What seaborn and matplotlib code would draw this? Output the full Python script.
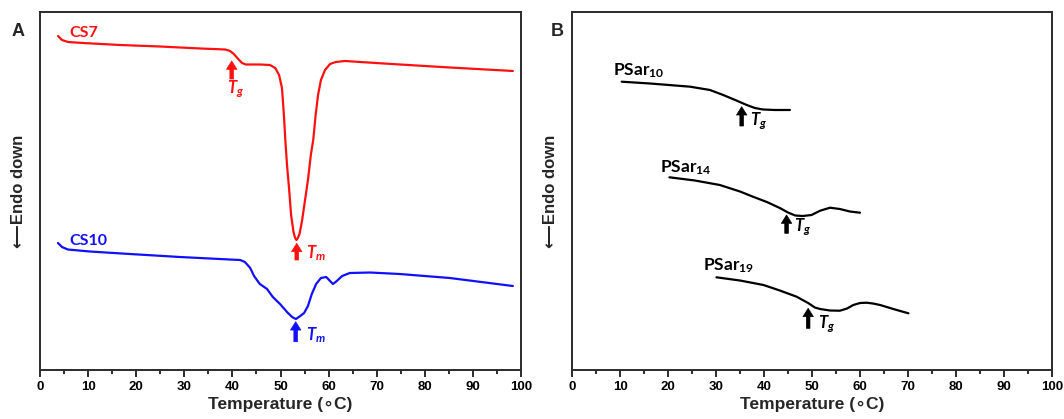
import matplotlib
matplotlib.use("Agg")
import matplotlib.pyplot as plt
from matplotlib.ticker import MultipleLocator
import pandas as pd
import seaborn as sns

# ---- DSC traces (heat flow in arbitrary units, endo down) ----
cs7_temp = [3.74, 4.57, 5.8, 8.9, 16.6, 24.9, 33.3, 38.5, 39.5, 40.3, 41.2, 42.0, 42.8,
            45.7, 47.8, 48.9, 49.7, 50.3, 50.7, 51.0, 51.35, 51.8, 52.2, 52.7, 53.0, 53.3,
            53.6, 53.95, 54.5, 55.1, 55.7, 56.3, 56.8, 57.3, 57.8, 58.4, 59.25, 60.3, 61.5,
            63.4, 66.5, 74.8, 85.2, 98.3]
cs7_heat = [33.4, 33.0, 32.8, 32.7, 32.5, 32.35, 32.15, 32.05, 31.9, 31.6, 31.1, 30.7, 30.55,
            30.55, 30.5, 30.2, 29.5, 28.2, 25.5, 23.0, 20.5, 18.0, 15.5, 13.8, 13.25, 13.0,
            13.2, 13.6, 15.0, 17.0, 19.0, 21.5, 23.0, 25.5, 27.5, 29.0, 30.0, 30.6, 30.8,
            30.9, 30.8, 30.55, 30.25, 29.9]

cs10_temp = [3.74, 4.57, 5.8, 10.4, 18.7, 29.1, 37.4, 41.6, 42.6, 43.7, 44.5, 45.7, 47.2,
             48.4, 49.9, 51.35, 52.4, 53.2, 54.1, 54.9, 55.7, 56.5, 57.4, 58.4, 59.5,
             60.3, 60.9, 61.7, 62.8, 64.4, 68.6, 74.8, 85.2, 98.3]
cs10_heat = [12.7, 12.3, 12.05, 11.85, 11.6, 11.3, 11.1, 11.0, 10.8, 10.2, 9.4, 8.6, 8.1,
             7.3, 6.6, 5.8, 5.3, 5.1, 5.4, 5.7, 6.4, 7.6, 8.6, 9.2, 9.3,
             8.9, 8.6, 8.9, 9.4, 9.7, 9.75, 9.6, 9.2, 8.4]

psar10_temp = [10.35, 16.25, 24.6, 28.75, 31.5, 34.0, 36.4, 38.1, 39.8, 42.3, 45.4]
psar10_heat = [28.83, 28.65, 28.33, 28.0, 27.5, 27.0, 26.5, 26.2, 26.05, 26.0, 26.0]

psar14_temp = [20.3, 25.6, 30.8, 35.0, 37.7, 40.6, 43.3, 45.0, 46.5, 48.1, 49.9, 51.7,
               53.75, 55.8, 57.9, 60.0]
psar14_heat = [19.27, 18.95, 18.5, 17.85, 17.33, 16.8, 16.2, 15.75, 15.45, 15.4, 15.5, 15.93,
               16.23, 16.1, 15.85, 15.73]

psar19_temp = [30.1, 35.0, 39.9, 43.3, 46.8, 49.2, 50.6, 51.7, 53.75, 55.8, 57.3, 58.6,
               60.0, 61.4, 62.7, 64.2, 67.3, 70.1]
psar19_heat = [9.27, 8.95, 8.5, 7.95, 7.33, 6.7, 6.25, 6.1, 5.95, 5.93, 6.15, 6.5,
               6.7, 6.73, 6.65, 6.5, 6.05, 5.67]

x_ticks = [0, 10, 20, 30, 40, 50, 60, 70, 80, 90, 100]

sns.set_theme(style="ticks")
plt.rcParams["font.family"] = ["Liberation Sans", "DejaVu Sans"]
plt.rcParams["font.weight"] = "bold"
plt.rcParams["mathtext.fontset"] = "custom"
plt.rcParams["mathtext.rm"] = "Lato:bold"
plt.rcParams["mathtext.bf"] = "Lato:bold"
plt.rcParams["mathtext.it"] = "Lato:bold:italic"

RED = "#ff1010"
BLUE = "#1010ff"
SPINE = "#2b2b2b"
LABEL_FONT = ["Liberation Sans", "DejaVu Sans"]

fig = plt.figure(figsize=(10.64, 4.19), dpi=100)
axA = fig.add_axes([0.0376, 0.1169, 0.4521, 0.8545])
axB = fig.add_axes([0.5376, 0.1169, 0.4511, 0.8545])


def trace(ax, temp, heat, color):
    df = pd.DataFrame({"T": temp, "H": heat})
    sns.lineplot(data=df, x="T", y="H", ax=ax, color=color, lw=1.6,
                 sort=False, estimator=None)


def arrow(ax, x, tip, base, color):
    ax.annotate("", xy=(x, tip), xytext=(x, base),
                arrowprops=dict(facecolor=color, edgecolor=color, width=2.6,
                                headwidth=7.5, headlength=6.0, shrink=0.0, lw=0.5))


def style(ax):
    ax.set_xlim(0, 100)
    ax.set_ylim(0, 35.8)
    ax.set_xticks(x_ticks)
    ax.set_xticklabels([str(t) for t in x_ticks])
    ax.xaxis.set_minor_locator(MultipleLocator(5))
    ax.set_yticks([])
    for sp in ax.spines.values():
        sp.set_visible(True)
        sp.set_color(SPINE)
        sp.set_linewidth(1.4)
    ax.tick_params(axis="x", which="major", direction="out", length=5, width=1.4,
                   color=SPINE, labelsize=9.5, pad=3, labelcolor="black")
    ax.tick_params(axis="x", which="minor", direction="out", length=3, width=1.4,
                   color=SPINE)
    for lab in ax.get_xticklabels():
        lab.set_fontweight("bold")
    ax.set_xlabel("Temperature (\u2218C)", fontsize=12.5, fontweight="bold",
                  labelpad=3, family=LABEL_FONT)
    ax.set_ylabel("\u27f5Endo down", fontsize=12, fontweight="bold",
                  labelpad=10, family=LABEL_FONT)


# ---- Panel A ----
trace(axA, cs7_temp, cs7_heat, RED)
trace(axA, cs10_temp, cs10_heat, BLUE)
style(axA)
axA.text(6.2, 33.3, "CS7", color=RED, fontsize=11.5, fontweight="bold",
         family="Lato", ha="left", va="baseline")
axA.text(6.2, 12.5, "CS10", color=BLUE, fontsize=11.5, fontweight="bold",
         family="Lato", ha="left", va="baseline")
arrow(axA, 39.85, 30.9, 29.1, RED)
axA.text(38.9, 27.7, r"$\mathit{T}_{\mathit{g}}$", color=RED, fontsize=12,
         ha="left", va="baseline")
arrow(axA, 53.37, 12.67, 11.0, RED)
axA.text(55.3, 11.2, r"$\mathit{T}_{\mathit{m}}$", color=RED, fontsize=12,
         ha="left", va="baseline")
arrow(axA, 53.15, 4.83, 2.83, BLUE)
axA.text(55.3, 3.0, r"$\mathit{T}_{\mathit{m}}$", color=BLUE, fontsize=12,
         ha="left", va="baseline")

# ---- Panel B ----
trace(axB, psar10_temp, psar10_heat, "black")
trace(axB, psar14_temp, psar14_heat, "black")
trace(axB, psar19_temp, psar19_heat, "black")
style(axB)
axB.text(8.5, 29.5, r"$\mathrm{PSar}_{\mathrm{10}}$", color="black", fontsize=12.5,
         ha="left", va="baseline")
axB.text(18.3, 19.77, r"$\mathrm{PSar}_{\mathrm{14}}$", color="black", fontsize=12.5,
         ha="left", va="baseline")
axB.text(27.35, 9.93, r"$\mathrm{PSar}_{\mathrm{19}}$", color="black", fontsize=12.5,
         ha="left", va="baseline")
arrow(axB, 35.35, 26.33, 24.4, "black")
axB.text(37.1, 24.5, r"$\mathit{T}_{\mathit{g}}$", color="black", fontsize=12,
         ha="left", va="baseline")
arrow(axB, 44.7, 15.5, 13.67, "black")
axB.text(46.35, 13.83, r"$\mathit{T}_{\mathit{g}}$", color="black", fontsize=12,
         ha="left", va="baseline")
arrow(axB, 49.2, 6.17, 4.17, "black")
axB.text(51.3, 4.2, r"$\mathit{T}_{\mathit{g}}$", color="black", fontsize=12,
         ha="left", va="baseline")

# Panel letters
fig.text(18 / 1064, 1 - 32 / 419, "A", fontsize=13, fontweight="bold",
         ha="center", va="center")
fig.text(557 / 1064, 1 - 32 / 419, "B", fontsize=13, fontweight="bold",
         ha="center", va="center")

fig.savefig("out.png", dpi=100, facecolor="white")
